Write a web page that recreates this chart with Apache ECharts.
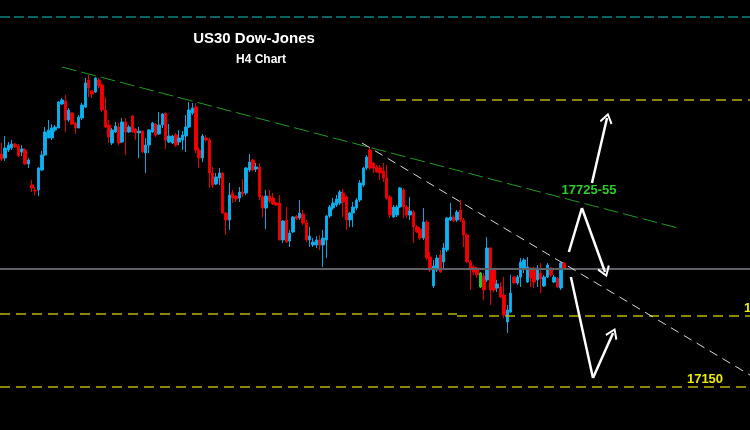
<!DOCTYPE html>
<html><head><meta charset="utf-8">
<script src="https://cdn.jsdelivr.net/npm/echarts@6/dist/echarts.min.js"></script>
<style>html,body{margin:0;padding:0;background:#000}#c{width:750px;height:430px}</style>
</head><body><div id="c"></div>
<script>
// ---- candle data (H4 bars, oldest first) ----
const open  = [17616,17608,17624,17628,17636,17632,17620,17624,17596,17554,17544,17544,17584,17614,17648,17648,17664,17668,17716,17722,17684,17698,17678,17668,17688,17710,17764,17742,17740,17764,
17754,17704,17674,17638,17660,17670,17640,17680,17660,17692,17666,17658,17662,17618,17634,17660,17676,17656,17674,17698,17640,17638,17654,17640,17644,17652,17670,17698,17710,17624,17608,17648,
17644,17578,17556,17568,17578,17498,17484,17538,17532,17528,17540,17538,17584,17604,17586,17590,17530,17508,17532,17528,17518,17518,17444,17484,17442,17460,17492,17488,17496,17478,17444,
17434,17434,17444,17434,17444,17492,17508,17514,17518,17538,17530,17484,17498,17508,17524,17554,17588,17624,17598,17590,17588,17582,17568,17530,17490,17494,17510,17544,17510,17494,
17500,17470,17466,17448,17480,17410,17352,17384,17414,17400,17424,17484,17490,17484,17504,17484,17454,17400,17390,17388,17350,17372,17364,17428,17384,17348,
17350,17334,17280,17300,17370,17358,17370,17388,17360,17388,17388,17364,17378,17352,17370,17388,17360,17368,17348,17398];
const close = [17606,17628,17634,17636,17630,17612,17626,17596,17604,17548,17542,17588,17614,17660,17664,17668,17670,17720,17724,17684,17704,17676,17668,17690,17714,17758,17748,17736,17768,17752,
17704,17670,17650,17664,17672,17638,17680,17660,17670,17660,17658,17662,17620,17634,17664,17678,17654,17674,17696,17644,17652,17652,17634,17648,17654,17670,17704,17708,17624,17608,17652,17644,
17578,17554,17570,17578,17498,17484,17534,17528,17526,17540,17536,17588,17600,17584,17590,17530,17508,17532,17522,17516,17514,17444,17482,17440,17458,17490,17486,17498,17478,17444,17452,
17440,17444,17434,17448,17492,17510,17518,17526,17540,17520,17484,17498,17510,17524,17558,17588,17610,17588,17588,17580,17578,17568,17528,17494,17510,17510,17548,17510,17494,17502,
17470,17460,17448,17480,17408,17384,17392,17408,17380,17428,17488,17490,17482,17500,17484,17454,17400,17384,17380,17374,17378,17344,17428,17344,17344,17356,
17330,17294,17304,17338,17358,17370,17400,17404,17390,17368,17360,17388,17366,17370,17394,17374,17370,17350,17398,17388];
const low   = [17602,17602,17620,17624,17628,17610,17612,17594,17588,17540,17534,17532,17582,17612,17648,17644,17660,17668,17714,17660,17680,17674,17656,17668,17684,17708,17730,17728,17738,17748,
17700,17668,17638,17634,17658,17634,17638,17614,17658,17658,17644,17608,17618,17578,17618,17658,17650,17654,17668,17626,17638,17636,17630,17634,17624,17620,17668,17694,17618,17588,17600,17640,
17548,17548,17554,17554,17496,17454,17464,17518,17520,17520,17530,17534,17580,17582,17580,17524,17490,17466,17518,17514,17512,17444,17438,17438,17430,17458,17484,17484,17474,17440,17430,
17430,17428,17424,17390,17408,17488,17504,17510,17514,17490,17464,17470,17470,17504,17520,17550,17584,17584,17578,17578,17564,17560,17524,17488,17488,17490,17508,17488,17488,17484,
17438,17458,17444,17444,17404,17380,17348,17380,17378,17384,17420,17482,17480,17480,17480,17430,17398,17344,17374,17368,17348,17324,17360,17314,17340,17340,
17328,17288,17258,17298,17356,17354,17350,17378,17358,17350,17348,17350,17338,17350,17368,17370,17358,17348,17344,17384];
const high  = [17638,17652,17640,17644,17638,17636,17634,17628,17608,17564,17550,17590,17622,17670,17684,17676,17674,17722,17728,17734,17708,17700,17680,17694,17718,17768,17774,17744,17770,17768,
17756,17730,17684,17668,17680,17678,17688,17688,17674,17694,17668,17670,17664,17648,17666,17680,17678,17700,17698,17698,17676,17654,17658,17664,17662,17694,17720,17718,17718,17630,17656,17654,
17648,17590,17578,17588,17580,17500,17558,17544,17534,17550,17566,17590,17616,17606,17598,17598,17534,17544,17544,17538,17520,17534,17484,17510,17464,17492,17494,17524,17504,17484,17470,
17448,17452,17454,17464,17494,17514,17528,17534,17544,17546,17534,17500,17520,17528,17564,17590,17614,17630,17600,17594,17594,17598,17594,17534,17514,17514,17550,17548,17514,17530,
17504,17474,17470,17508,17484,17420,17404,17414,17424,17438,17490,17518,17494,17504,17524,17488,17458,17404,17394,17390,17380,17378,17450,17430,17388,17364,
17360,17370,17314,17374,17372,17374,17408,17408,17410,17390,17390,17394,17398,17374,17398,17390,17374,17370,17400,17400];
const specialGreenBar = 143;          // the one green-painted bar
const barSlots = 224;                 // bar slots across the chart width

// ---- levels and drawn lines (price units; x in bar slots) ----
const levelTeal   = 17890;
const levelTop    = 17724;
const levelMidL   = 17296;
const levelMidR   = 17292;
const levelBottom = 17150;
const levelNow    = 17386;
const trendGreen  = [[18.5, 17790], [202.5, 17468]];
const trendWhite  = [[108.1, 17638], [224, 17174]];
const arrowUp     = [[176.8, 17558], [181.3, 17688]];
const arrowMid    = [[169.9, 17420], [173.8, 17508], [180.7, 17380]];
const arrowLow    = [[170.5, 17370], [177.1, 17168], [183.1, 17258]];
const texts = ['US30 Dow-Jones', 'H4 Chart', '17725-55', '17150', '17300'];

const cats = Array.from({length: barSlots}, (_, i) => String(i));
const candles = open.map((o, i) => {
  const d = {value: [o, close[i], low[i], high[i]]};
  if (i === specialGreenBar) d.itemStyle = {color: '#22cc22', borderColor: '#22cc22', color0: '#22cc22', borderColor0: '#22cc22'};
  return d;
});

const yellowL = {color: '#b8b400', width: 1.5, type: [10, 6]};
function seg(a, b, style, endSym) {
  return [{coord: a, lineStyle: style, symbol: 'none'}, {coord: b, symbol: endSym || 'none'}];
}
const chevron = 'path://M0,0L7,9L5.4,10.4L0,3.2L-5.4,10.4L-7,9Z';
const arrowStyle = {color: '#ffffff', width: 2.5, type: 'solid'};
function arrowSegs(pts) {
  const out = [];
  for (let i = 0; i < pts.length - 1; i++) out.push(seg(pts[i], pts[i+1], arrowStyle, i === pts.length - 2 ? chevron : 'none'));
  return out;
}

const lines = [
  seg([0, levelTeal], [barSlots, levelTeal], {color: '#0f8585', width: 1.5, type: [10, 4]}),
  seg([113.5, levelTop], [barSlots, levelTop], yellowL),
  seg([0, levelMidL], [136.5, levelMidL], yellowL),
  seg([136.5, levelMidR], [barSlots, levelMidR], yellowL),
  seg([0, levelBottom], [barSlots, levelBottom], yellowL),
  seg([0, levelNow], [barSlots, levelNow], {color: '#5c6268', width: 2, type: 'solid'}),
  seg(trendGreen[0], trendGreen[1], {color: '#1f9a1f', width: 1, type: [15, 5]}),
  seg(trendWhite[0], trendWhite[1], {color: '#d8d8d8', width: 1, type: [9, 6]}),
  ...arrowSegs(arrowUp), ...arrowSegs(arrowMid), ...arrowSegs(arrowLow)
];

const chart = echarts.init(document.getElementById('c'), null, {renderer: 'canvas'});
chart.setOption({
  backgroundColor: '#000000',
  animation: false,
  grid: {left: 0, right: 0, top: 0, bottom: 0},
  xAxis: [
    {type: 'category', data: cats, show: false, boundaryGap: true},
    {type: 'value', min: 0, max: barSlots, show: false}
  ],
  yAxis: {type: 'value', min: 17064, max: 17924, show: false, splitLine: {show: false}},
  series: [
    {type: 'candlestick', data: candles, barWidth: 3,
     itemStyle: {color: '#0db2f2', color0: '#f50000', borderColor: '#0aa6e2', borderColor0: '#e80000', borderWidth: 1}},
    {type: 'line', xAxisIndex: 1, yAxisIndex: 0, data: [], silent: true,
     markLine: {silent: true, animation: false, symbolSize: [13, 11], label: {show: false}, emphasis: {disabled: true}, data: lines}}
  ],
  graphic: [
    {type: 'text', x: 254, y: 39, style: {text: texts[0], fill: '#ffffff', font: 'bold 15px "Liberation Sans", Arial', align: 'center', verticalAlign: 'middle'}},
    {type: 'text', x: 261, y: 60, style: {text: texts[1], fill: '#ffffff', font: 'bold 12px "Liberation Sans", Arial', align: 'center', verticalAlign: 'middle'}},
    {type: 'text', x: 589, y: 190, style: {text: texts[2], fill: '#2ccc2c', font: 'bold 13px "Liberation Sans", Arial', align: 'center', verticalAlign: 'middle'}},
    {type: 'text', x: 705, y: 379, style: {text: texts[3], fill: '#ecec00', font: 'bold 13px "Liberation Sans", Arial', align: 'center', verticalAlign: 'middle'}},
    {type: 'text', x: 744, y: 308, style: {text: texts[4], fill: '#ecec00', font: 'bold 13px "Liberation Sans", Arial', align: 'left', verticalAlign: 'middle'}}
  ]
});
</script></body></html>
